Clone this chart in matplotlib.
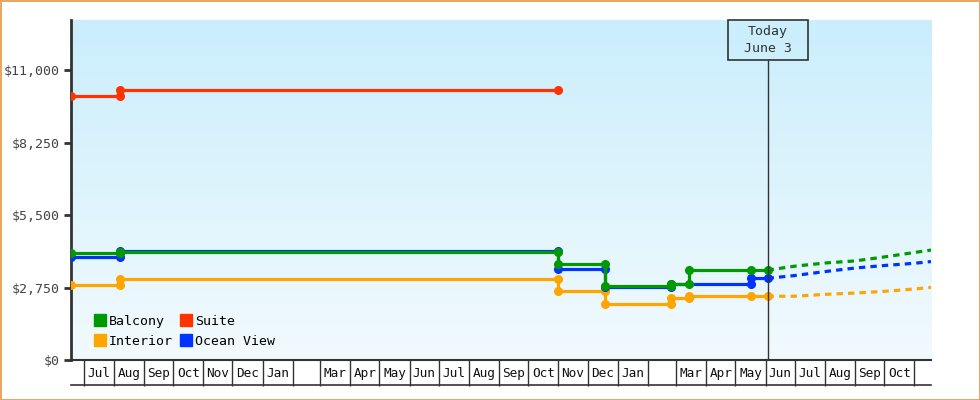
import numpy as np
import pandas as pd
import matplotlib
matplotlib.use("Agg")
import matplotlib.pyplot as plt
import matplotlib.dates as mdates
from matplotlib.lines import Line2D
from matplotlib.patches import Rectangle
from matplotlib.colors import LinearSegmentedColormap

# price history: every price change has a point at the old and the new price
balcony_dates = ["2022-06-18", "2022-08-07", "2022-08-07", "2023-11-01", "2023-11-01",
                 "2023-12-19", "2023-12-19", "2024-02-25", "2024-02-25", "2024-03-14",
                 "2024-03-14", "2024-05-17", "2024-06-03"]
balcony_prices = [4050, 4050, 4100, 4100, 3630, 3630, 2820, 2820, 2900, 2900, 3410, 3410, 3410]

ocean_dates = ["2022-06-18", "2022-08-07", "2022-08-07", "2023-11-01", "2023-11-01",
               "2023-12-19", "2023-12-19", "2024-02-25", "2024-02-25", "2024-05-17",
               "2024-05-17", "2024-06-03"]
ocean_prices = [3900, 3900, 4150, 4150, 3450, 3450, 2780, 2780, 2870, 2870, 3100, 3100]

interior_dates = ["2022-06-18", "2022-08-07", "2022-08-07", "2023-11-01", "2023-11-01",
                  "2023-12-19", "2023-12-19", "2024-02-25", "2024-02-25", "2024-03-14",
                  "2024-03-14", "2024-05-17", "2024-06-03"]
interior_prices = [2845, 2845, 3070, 3070, 2620, 2620, 2140, 2140, 2360, 2360, 2420, 2420, 2420]

suite_dates = ["2022-06-18", "2022-08-07", "2022-08-07", "2023-11-01"]
suite_prices = [10000, 10000, 10230, 10230]

# forecast after today
forecast_dates = ["2024-06-03", "2024-07-01", "2024-08-01", "2024-09-01",
                  "2024-10-01", "2024-11-01", "2024-11-18"]
balcony_forecast = [3410, 3560, 3680, 3760, 3910, 4080, 4170]
ocean_forecast = [3100, 3205, 3355, 3490, 3585, 3670, 3735]
interior_forecast = [2420, 2420, 2490, 2540, 2605, 2695, 2755]

today = "2024-06-03"
x_start, x_end = "2022-06-18", "2024-11-18"

y_ticks = [0, 2750, 5500, 8250, 11000]
y_labels = ["$0", "$2,750", "$5,500", "$8,250", "$11,000"]

month_labels = ["Jul", "Aug", "Sep", "Oct", "Nov", "Dec", "Jan", "", "Mar", "Apr", "May", "Jun",
                "Jul", "Aug", "Sep", "Oct", "Nov", "Dec", "Jan", "", "Mar", "Apr", "May", "Jun",
                "Jul", "Aug", "Sep", "Oct", ""]

colors = {"Balcony": "#009900", "Suite": "#ff3300", "Interior": "#ffa500", "Ocean View": "#0033ff"}
ink = "#333333"
mono = "DejaVu Sans Mono"

fig = plt.figure(figsize=(9.8, 4), dpi=100, linewidth=2, edgecolor="#e9a862")
ax = fig.add_axes([71 / 980, 40 / 400, 860 / 980, 340 / 400])

# gradient background
cmap = LinearSegmentedColormap.from_list("bg", ["#caeefc", "#f2fafe"])
ax.imshow(np.linspace(0, 1, 256).reshape(-1, 1), extent=[0, 1, 0, 1], transform=ax.transAxes,
          aspect="auto", cmap=cmap, zorder=0)

def d(lst):
    return mdates.date2num(pd.to_datetime(lst))

lw = 2.3
ms = 5.5
series = [("Interior", interior_dates, interior_prices, interior_forecast),
          ("Ocean View", ocean_dates, ocean_prices, ocean_forecast),
          ("Balcony", balcony_dates, balcony_prices, balcony_forecast),
          ("Suite", suite_dates, suite_prices, None)]
for name, dts, vals, fc in series:
    c = colors[name]
    if fc is not None:
        ax.plot(d(forecast_dates), fc, color=c, lw=lw, dashes=[2.0, 1.6], zorder=3)
    ax.plot(d(dts), vals, color=c, lw=lw, marker="o", ms=ms, mec=c, zorder=4)

ax.set_xlim(d([x_start])[0], d([x_end])[0])
ax.set_ylim(0, 12900)

# today marker with its label box (80 x 40 px, top on the plot top)
t = d([today])[0]
days_per_px = (ax.get_xlim()[1] - ax.get_xlim()[0]) / 860
box_h = 40 / 340
ax.axvline(t, ymin=0, ymax=1 - box_h, color=ink, lw=1, zorder=5)
ax.add_patch(Rectangle((t - 40 * days_per_px, 1 - box_h), 80 * days_per_px, box_h,
                       transform=ax.get_xaxis_transform(), fc="none", ec=ink, lw=1.2,
                       clip_on=False, zorder=6))
ax.text(t, 1 - box_h / 2, "Today\nJune 3", transform=ax.get_xaxis_transform(),
        ha="center", va="center", fontsize=9.5, family=mono, color=ink,
        linespacing=1.3, zorder=6)

# y axis
ax.set_yticks(y_ticks)
ax.set_yticklabels(y_labels, family=mono, fontsize=9.5, color="#444444")
ax.tick_params(axis="y", direction="out", length=5, width=2, color=ink, pad=3)

# month cells on the x axis
starts = pd.date_range("2022-07-01", "2024-11-01", freq="MS")
ends = starts + pd.offsets.MonthBegin(1)
mids = d(starts) + (d(ends) - d(starts)) / 2
ax.set_xticks(d(starts))
ax.set_xticklabels([])
ax.tick_params(axis="x", which="major", direction="out", length=18.5, width=1, color=ink)
ax.set_xticks(mids, minor=True)
ax.set_xticklabels(month_labels, minor=True, family=mono, fontsize=9.2, color="#111111")
ax.tick_params(axis="x", which="minor", length=0, pad=5)
ax.plot([0, 1], [-25 / 340, -25 / 340], transform=ax.transAxes, color=ink, lw=1.2,
        clip_on=False)

for s in ["top", "right"]:
    ax.spines[s].set_visible(False)
ax.spines["left"].set_linewidth(2)
ax.spines["left"].set_color(ink)
ax.spines["bottom"].set_linewidth(1.5)
ax.spines["bottom"].set_color(ink)

handles = [Line2D([], [], ls="none", marker="s", ms=8, color=colors[n])
           for n in ["Balcony", "Interior", "Suite", "Ocean View"]]
ax.legend(handles, ["Balcony", "Interior", "Suite", "Ocean View"], ncol=2, loc="lower left",
          bbox_to_anchor=(0.021, 0.02), frameon=False, prop={"family": mono, "size": 9.5},
          handlelength=0.8, handletextpad=0.3, columnspacing=0.6, labelspacing=0.55,
          borderaxespad=0)

fig.savefig("out.png", dpi=100)
